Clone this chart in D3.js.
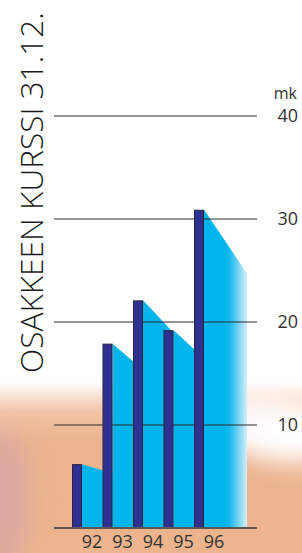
<!DOCTYPE html>
<html>
<head>
<meta charset="utf-8">
<script src="https://cdn.jsdelivr.net/npm/d3@7"></script>
<style>
  body { margin: 0; background: #fff; }
  svg { display: block; }
  text { font-family: "Open Sans", sans-serif; }
</style>
</head>
<body>
<script>
// share price at 31.12., mk
const years = ['92', '93', '94', '95', '96']
const prices = [6.2, 17.9, 22.1, 19.2, 30.9]
const ticks = [10, 20, 30, 40]
const unit = 'mk'
const title = 'OSAKKEEN KURSSI 31.12.'

const m = { width: 302, height: 553 }

const svg = d3.select('body').append('svg')
    .attr('width', m.width)
    .attr('height', m.height)

const defs = svg.append('defs')

// background: white top fading into peach
const bg = defs.append('linearGradient')
    .attr('id', 'bg').attr('x1', 0).attr('y1', 0).attr('x2', 0).attr('y2', 1)
bg.append('stop').attr('offset', 0.69).attr('stop-color', '#ffffff')
bg.append('stop').attr('offset', 0.745).attr('stop-color', '#f1c3a6')
bg.append('stop').attr('offset', 0.80).attr('stop-color', '#ebb38f')
bg.append('stop').attr('offset', 1).attr('stop-color', '#edb48d')

defs.append('filter').attr('id', 'blur')
    .attr('x', -1).attr('y', -1).attr('width', 3).attr('height', 3)
  .append('feGaussianBlur').attr('stdDeviation', 12)

// shadow of each bar, fades out on the right
const sh = defs.append('linearGradient')
    .attr('id', 'shade').attr('x1', 0).attr('y1', 0).attr('x2', 1).attr('y2', 0)
const shadeStops = [[0, '#00b4ec'], [0.48, '#00b4ec'], [0.6, '#1dbbef'],
    [0.72, '#4fc8f2'], [0.84, '#8ad9f5'], [1, '#d6effb']]
shadeStops.forEach(s => sh.append('stop').attr('offset', s[0]).attr('stop-color', s[1]))

svg.append('rect')
    .attr('width', m.width).attr('height', m.height)
    .attr('fill', 'url(#bg)')

svg.append('ellipse')
    .attr('cx', 0).attr('cy', 500).attr('rx', 30).attr('ry', 70)
    .attr('fill', '#d2a3b0').attr('opacity', 0.6)
    .attr('filter', 'url(#blur)')

svg.append('ellipse')
    .attr('cx', 295).attr('cy', 432).attr('rx', 70).attr('ry', 30)
    .attr('fill', '#ffffff')
    .attr('filter', 'url(#blur)')

svg.append('ellipse')
    .attr('cx', 230).attr('cy', 412).attr('rx', 60).attr('ry', 16)
    .attr('fill', '#ffffff').attr('opacity', 0.8)
    .attr('filter', 'url(#blur)')

const x = d3.scaleBand()
    .domain(years)
    .range([72, 224.5])
    .paddingInner(0)

const y = d3.scaleLinear()
    .domain([0, 40])
    .range([528, 116])

const barW = 10
const shadeW = 43
const shadeDrop = 0.8

const g = svg.append('g')

// shadows behind the bars
g.selectAll('.shade')
    .data(prices)
    .enter()
    .append('path')
    .attr('class', 'shade')
    .attr('fill', 'url(#shade)')
    .attr('d', function(d, i) {
        const x0 = x(years[i]) + barW
        const h = y(0) - y(d)
        return 'M' + x0 + ',' + y(d) +
            'L' + (x0 + shadeW) + ',' + (y(0) - h * shadeDrop) +
            'L' + (x0 + shadeW) + ',' + y(0) +
            'L' + x0 + ',' + y(0) + 'Z'
    })

// gridlines
g.selectAll('.grid')
    .data(ticks)
    .enter()
    .append('line')
    .attr('x1', 54).attr('x2', 257)
    .attr('y1', d => y(d)).attr('y2', d => y(d))
    .attr('stroke', '#2a2a2a')
    .attr('stroke-width', 1)

g.selectAll('.bar')
    .data(prices)
    .enter()
    .append('rect')
    .attr('x', (d, i) => x(years[i]) + 0.5)
    .attr('y', d => y(d) + 0.5)
    .attr('width', barW - 1)
    .attr('height', d => y(0) - y(d) - 0.5)
    .attr('fill', '#2e3192')
    .attr('stroke', '#262640')
    .attr('stroke-width', 1)

g.append('line')
    .attr('x1', 54).attr('x2', 257)
    .attr('y1', y(0)).attr('y2', y(0))
    .attr('stroke', '#5a5654')
    .attr('stroke-width', 2)

// value labels on the right
g.selectAll('.tick')
    .data(ticks)
    .enter()
    .append('text')
    .attr('x', 298)
    .attr('y', d => y(d))
    .attr('dy', '0.36em')
    .attr('text-anchor', 'end')
    .attr('font-size', 18)
    .attr('fill', '#333')
    .text(d => d)

g.append('text')
    .attr('x', 297)
    .attr('y', 99)
    .attr('text-anchor', 'end')
    .attr('font-size', 16)
    .attr('fill', '#333')
    .text(unit)

g.selectAll('.year')
    .data(years)
    .enter()
    .append('text')
    .attr('x', d => x(d) + 20)
    .attr('y', 548)
    .attr('text-anchor', 'middle')
    .attr('font-size', 18)
    .attr('fill', '#333')
    .text(d => d)

// vertical title, sized to run from y=373 up to y=12
const t = svg.append('text')
    .attr('transform', 'translate(43,373) rotate(-90)')
    .attr('font-size', 34)
    .attr('font-weight', 300)
    .attr('fill', '#1a1a1a')
    .text(title)
const len = t.node().getComputedTextLength()
t.attr('font-size', 34 * 361 / len)
</script>
</body>
</html>
